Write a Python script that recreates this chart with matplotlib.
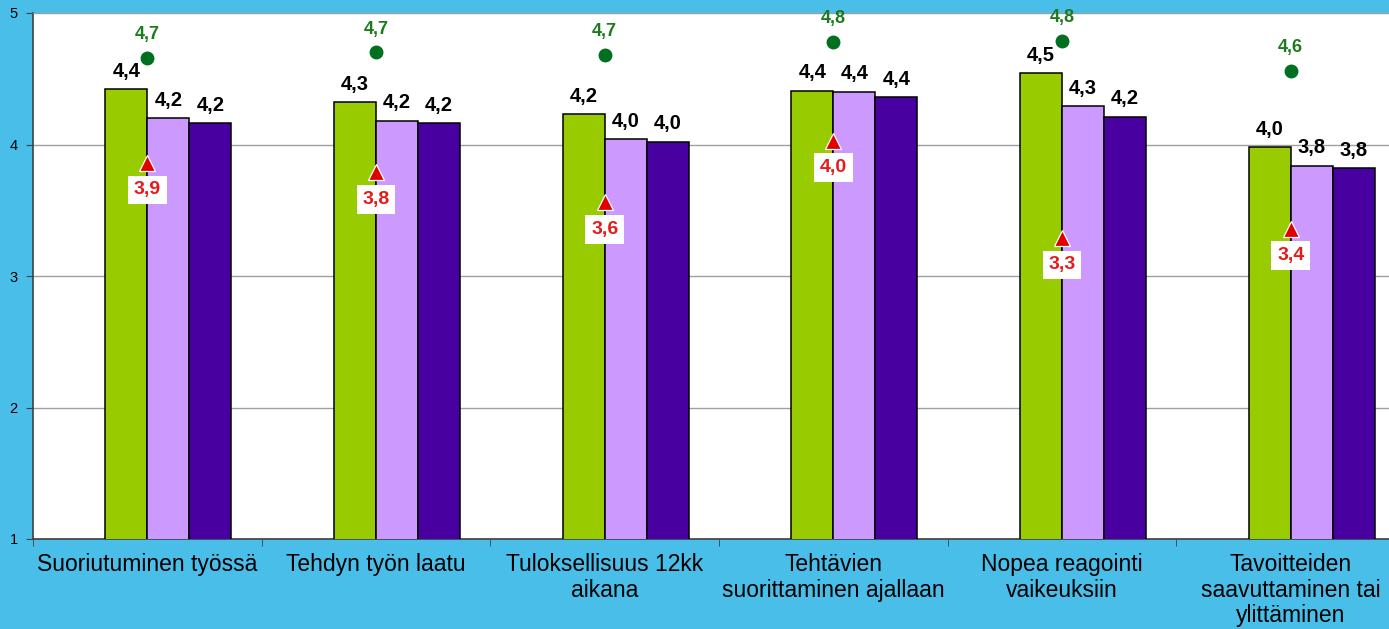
import matplotlib
matplotlib.use('agg')
import matplotlib.pyplot as plt
import numpy as np

categories = ["Suoriutuminen työssä", "Tehdyn työn laatu", "Tuloksellisuus 12kk\naikana",
              "Tehtävien\nsuorittaminen ajallaan", "Nopea reagointi\nvaikeuksiin",
              "Tavoitteiden\nsaavuttaminen tai\nylittäminen"]
green_vals = [4.42, 4.32, 4.23, 4.41, 4.54, 3.98]
lilac_vals = [4.20, 4.18, 4.04, 4.40, 4.29, 3.84]
purple_vals = [4.16, 4.16, 4.02, 4.36, 4.21, 3.82]
max_vals = [4.66, 4.70, 4.68, 4.78, 4.79, 4.56]
min_vals = [3.86, 3.79, 3.56, 4.03, 3.29, 3.36]

bg = '#48BEE9'
fig = plt.figure(figsize=(13.89, 6.29), dpi=100, facecolor=bg)
# plot area runs a bit past the right edge of the picture, like in the original
ax = fig.add_axes([33/1389, 1-539/629, 1372/1389, 526/629])
ax.set_facecolor('white')

x = np.arange(len(categories)) + 0.5
w = 42/228.7

def fmt(v):
    return f"{v:.1f}".replace('.', ',')

for off, vals, col in [(-0.5, green_vals, '#99CC00'), (0.5, lilac_vals, '#CC99FF'), (1.5, purple_vals, '#4800A0')]:
    ax.bar(x + off*w, vals, width=w, color=col, edgecolor='black', linewidth=1.1, zorder=3)
    for xi, v in zip(x + off*w, vals):
        ax.annotate(fmt(v), (xi, v), xytext=(0, 9), textcoords='offset points', ha='center',
                    va='baseline', fontsize=14.5, fontweight='bold', color='black',
                    family='Liberation Sans', zorder=5)

ax.plot(x, max_vals, 'o', color='#007020', markersize=9, zorder=4, clip_on=False)
for xi, v in zip(x, max_vals):
    ax.annotate(fmt(v), (xi, v), xytext=(0, 13.5), textcoords='offset points', ha='center',
                va='baseline', fontsize=13, fontweight='bold', color='#1E7A1E',
                family='Liberation Sans', zorder=5, annotation_clip=False)

ax.plot(x, min_vals, '^', color='#E00000', markeredgecolor='white', markeredgewidth=0.9,
        markersize=11, zorder=4)
for xi, v in zip(x, min_vals):
    ax.annotate(fmt(v), (xi, v), xytext=(0, -19.5), textcoords='offset points', ha='center',
                va='center', fontsize=14, fontweight='bold', color='#E41B1B',
                family='Liberation Sans', zorder=5,
                bbox=dict(boxstyle='square,pad=0.3', fc='white', ec='none'))

ax.set_xlim(0, 6)
ax.set_ylim(1, 5)
ax.set_yticks([1, 2, 3, 4, 5])
ax.set_yticklabels(['1', '2', '3', '4', '5'], family='Liberation Sans', fontsize=10.5)
ax.yaxis.grid(True, color='#A0A0A0', linewidth=1.0, zorder=0)
ax.set_axisbelow(True)

ax.set_xticks(x)
ax.set_xticklabels(categories, family='Liberation Sans', fontsize=16.5, linespacing=1.15)
ax.set_xticks(np.arange(7), minor=True)
ax.tick_params(axis='x', which='major', length=0, pad=10)
ax.tick_params(axis='x', which='minor', length=5, color='#404040')
ax.tick_params(axis='y', length=5, color='#404040', pad=6)

for s in ['left', 'bottom']:
    ax.spines[s].set_color('#404040')
    ax.spines[s].set_linewidth(1.2)
ax.spines['top'].set_color('#A0A0A0')
ax.spines['right'].set_visible(False)

plt.savefig('out.png', dpi=100, facecolor=bg)
